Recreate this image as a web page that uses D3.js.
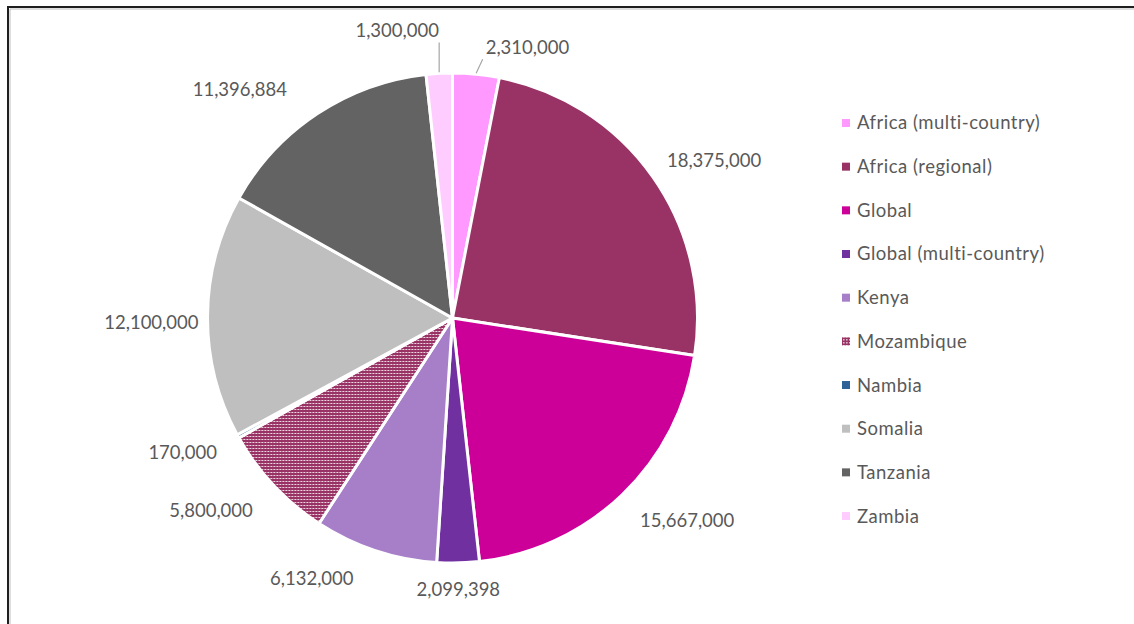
<!DOCTYPE html>
<meta charset="utf-8" />
<script src="https://cdn.jsdelivr.net/npm/d3@7"></script>
<html>
    <head>
        <title>Funding by country</title>
        <style>
            body { margin: 0; background: #fff; }
            text { font-family: Lato, "Open Sans", sans-serif; fill: #595959; }
        </style>
    </head>
    <body>
        <script>
            // values, clockwise from 12 o'clock
            var categories = [
                "Africa (multi-country)",
                "Africa (regional)",
                "Global",
                "Global (multi-country)",
                "Kenya",
                "Mozambique",
                "Nambia",
                "Somalia",
                "Tanzania",
                "Zambia",
            ];
            var values = [
                2310000, 18375000, 15667000, 2099398, 6132000,
                5800000, 170000, 12100000, 11396884, 1300000,
            ];
            var colors = [
                "#FF99FF", "#993366", "#CC0099", "#7030A0", "#A67FC8",
                "url(#dots)", "#2E6196", "#BFBFBF", "#636363", "#FFCCFF",
            ];
            // hand nudges for the data labels (Excel moved some of them)
            var labelDx = [46, 11, 23, -1, -46, -22, -13, 5, -44, -39];
            var labelDy = [-4, -3, 9, 4, 6, 9, 5, 7, -5, -20];
            var hasLeader = [true, false, false, false, false, false, false, false, false, true];

            var width = 1134,
                height = 624;
            var cx = 452.5,
                cy = 318,
                r = 245;
            var fmt = d3.format(",");

            var svg = d3
                .select("body")
                .append("svg")
                .attr("width", width)
                .attr("height", height);

            // dotted fill for Mozambique
            var pat = svg
                .append("defs")
                .append("pattern")
                .attr("id", "dots")
                .attr("patternUnits", "userSpaceOnUse")
                .attr("width", 3)
                .attr("height", 3);
            pat.append("rect").attr("width", 3).attr("height", 3).attr("fill", "#993366");
            pat.append("rect").attr("x", 1).attr("y", 1).attr("width", 1).attr("height", 1).attr("fill", "#fff");
            pat.append("rect").attr("x", 2).attr("y", 1).attr("width", 1).attr("height", 1).attr("fill", "#d9aec3");

            // frame (only top and left edges show)
            svg.append("path")
                .attr("d", "M8," + height + "V7H" + width)
                .attr("fill", "none")
                .attr("stroke", "#1f1f1f")
                .attr("stroke-width", 2);
            svg.append("path")
                .attr("d", "M10," + height + "V9H" + width)
                .attr("fill", "none")
                .attr("stroke", "#bdbdbd")
                .attr("stroke-width", 1);

            var pie = d3.pie().sort(null).value((d) => d);
            var arcs = pie(values);
            var arc = d3.arc().innerRadius(0).outerRadius(r);

            var g = svg.append("g").attr("transform", "translate(" + cx + "," + cy + ")");

            g.selectAll("path")
                .data(arcs)
                .enter()
                .append("path")
                .attr("d", arc)
                .attr("fill", (d, i) => colors[i])
                .attr("stroke", "#fff")
                .attr("stroke-width", 3)
                .attr("stroke-linejoin", "round");

            // data labels
            var R = r + 14,
                h = 18;
            var labels = svg.append("g");
            arcs.forEach(function (a, i) {
                var mid = (a.startAngle + a.endAngle) / 2;
                var s = Math.sin(mid),
                    c = Math.cos(mid);
                var t = labels
                    .append("text")
                    .attr("text-anchor", "middle")
                    .attr("dy", "0.35em")
                    .style("font-size", "18.5px")
                    .text(fmt(values[i]));
                var w = t.node().getComputedTextLength();
                var x = cx + s * R + (s * w) / 2 + labelDx[i];
                var y = cy - c * R - (c * h) / 2 + labelDy[i];
                t.attr("x", x).attr("y", y);

                if (hasLeader[i]) {
                    var x0 = cx + s * (r + 1),
                        y0 = cy - c * (r + 1);
                    var pad = 3;
                    var x1 = Math.max(x - w / 2 - pad, Math.min(x + w / 2 + pad, x0));
                    var y1 = Math.max(y - h / 2 - pad, Math.min(y + h / 2 + pad, y0));
                    labels
                        .append("line")
                        .attr("x1", x0)
                        .attr("y1", y0)
                        .attr("x2", x1)
                        .attr("y2", y1)
                        .attr("stroke", "#a6a6a6")
                        .attr("stroke-width", 1.2);
                }
            });

            // legend
            var legend = svg
                .append("g")
                .selectAll("g")
                .data(categories)
                .enter()
                .append("g")
                .attr("transform", (d, i) => "translate(842," + (123 + i * 43.67) + ")");

            legend
                .append("rect")
                .attr("x", 0)
                .attr("y", -4)
                .attr("width", 8)
                .attr("height", 8)
                .attr("fill", (d, i) => colors[i]);

            legend
                .append("text")
                .attr("x", 15)
                .attr("dy", "0.35em")
                .style("font-size", "18.5px")
                .style("letter-spacing", "0.5px")
                .text((d) => d);
        </script>
    </body>
</html>
